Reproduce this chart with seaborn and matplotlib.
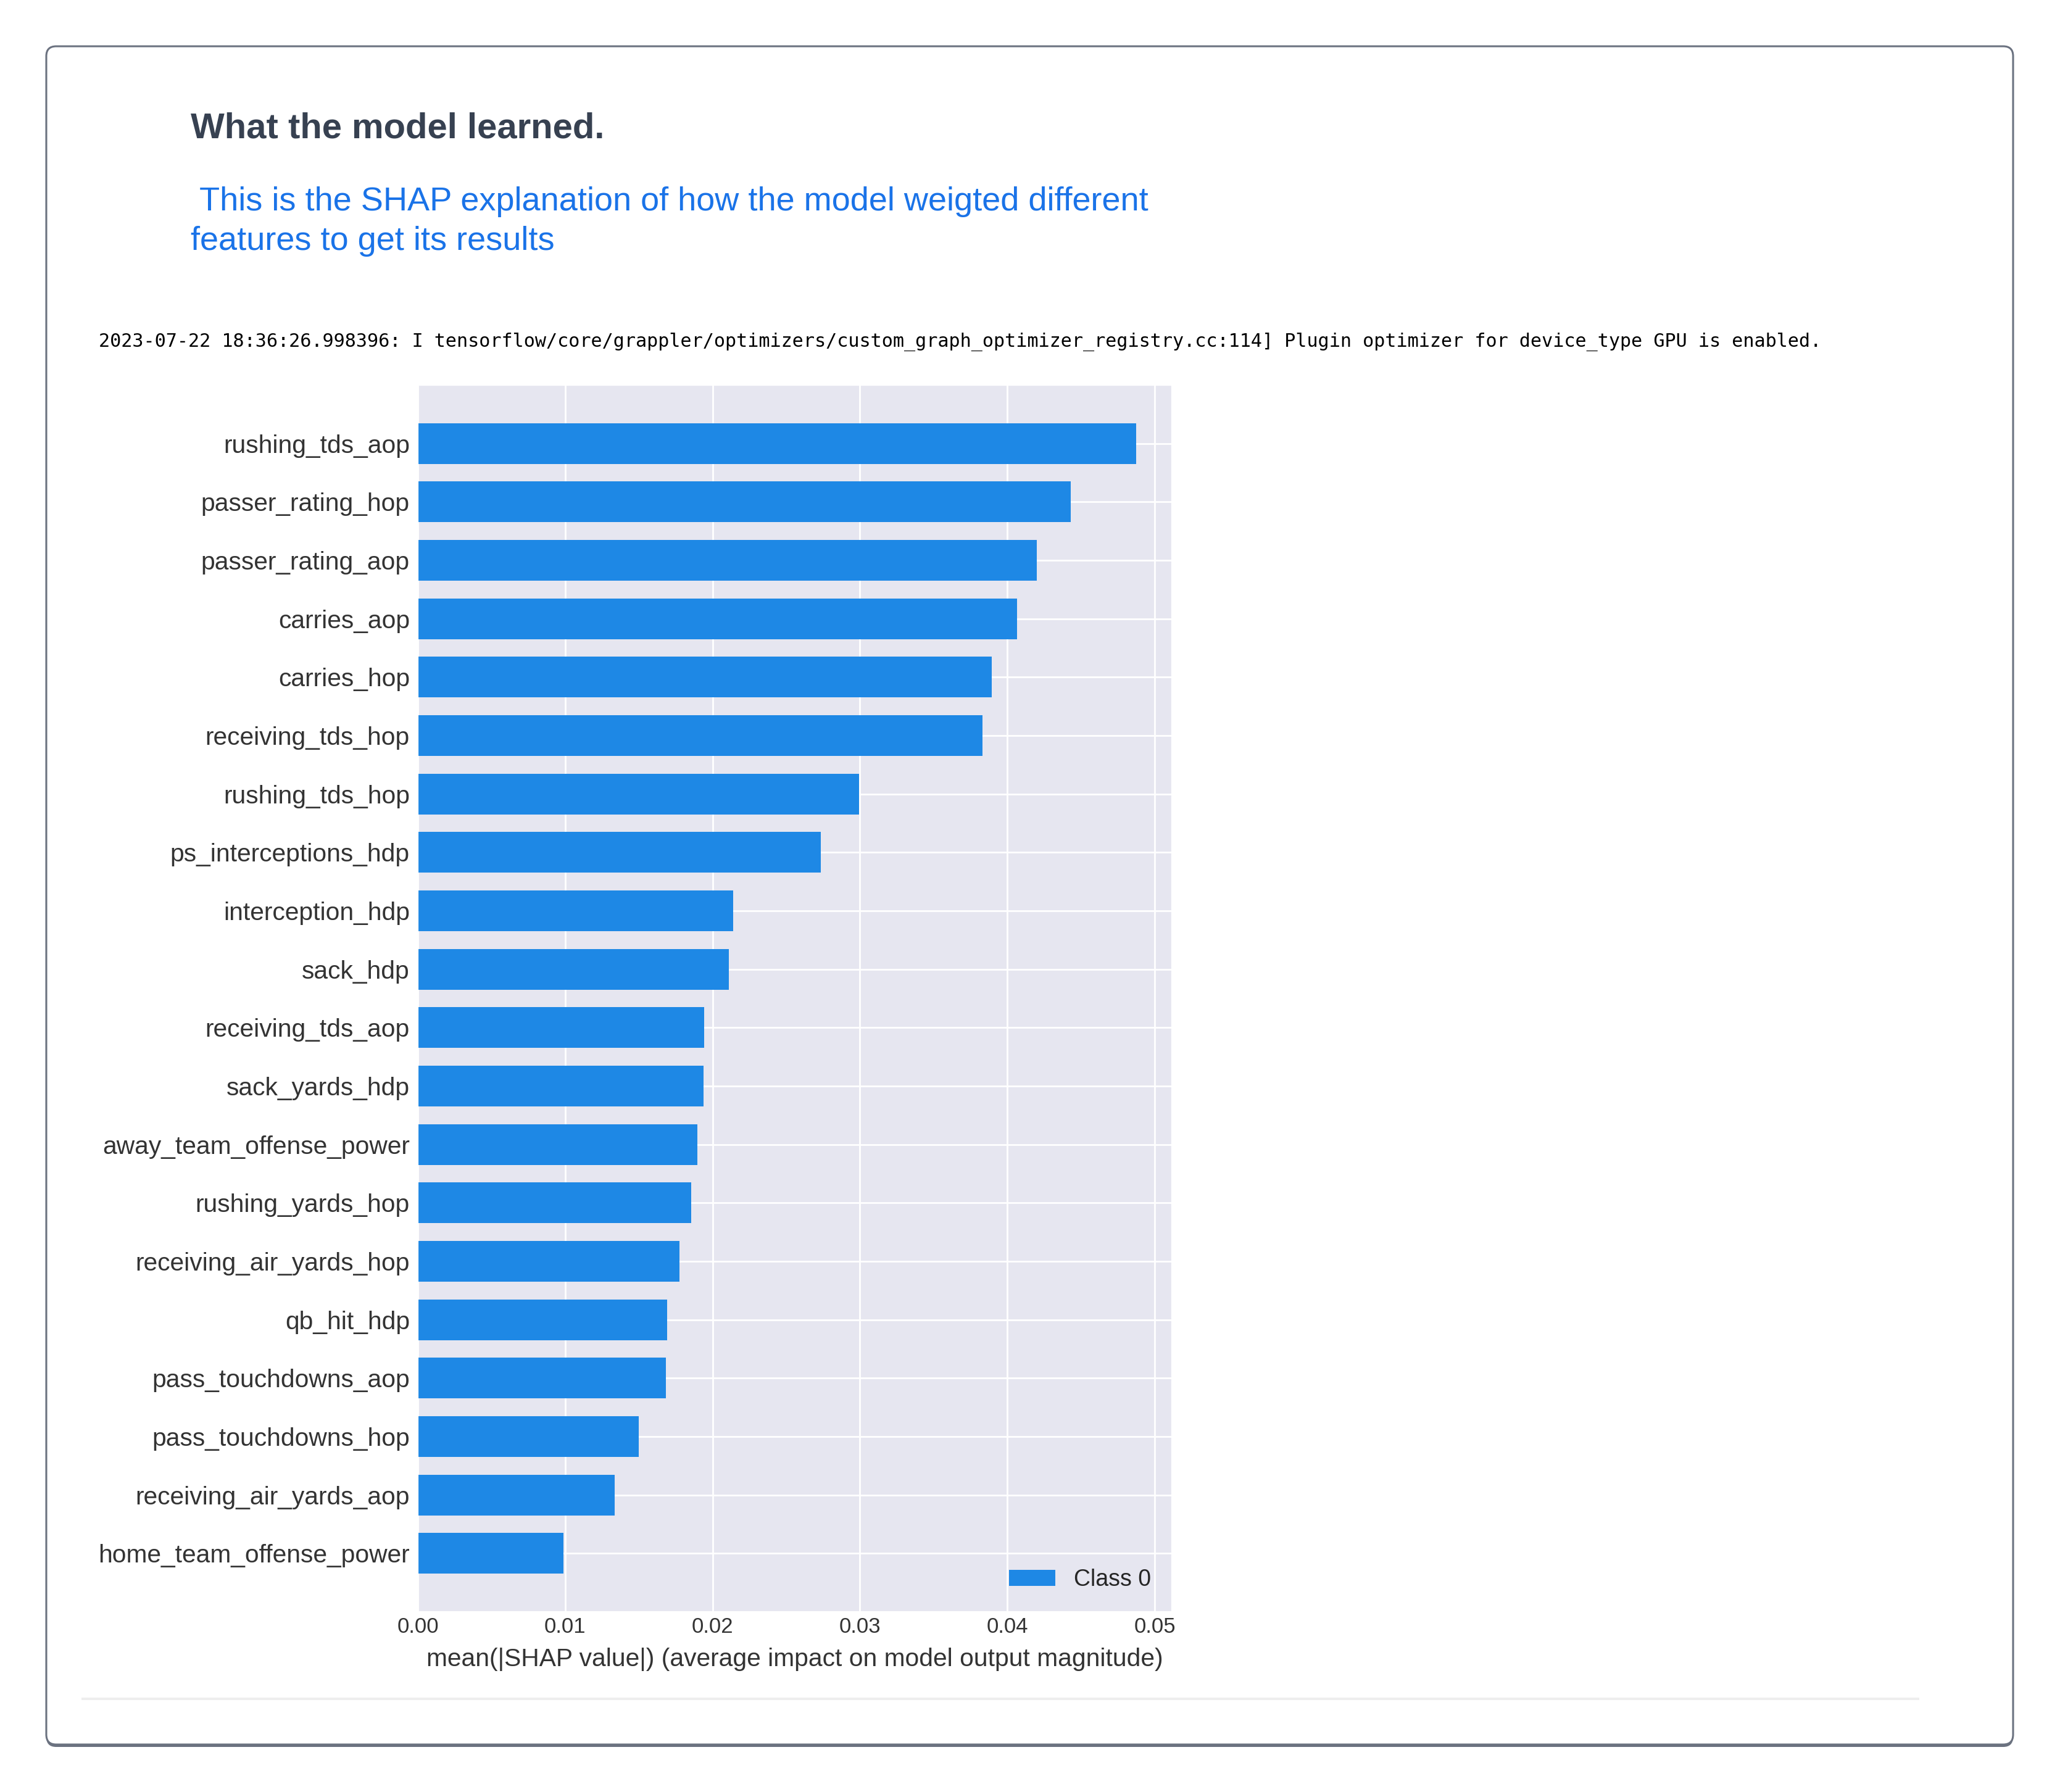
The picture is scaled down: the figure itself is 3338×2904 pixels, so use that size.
import matplotlib
matplotlib.use("Agg")
import matplotlib.pyplot as plt
from matplotlib.patches import FancyBboxPatch
import seaborn as sns
import pandas as pd

# Data (top to bottom)
features = [
    "rushing_tds_aop", "passer_rating_hop", "passer_rating_aop", "carries_aop",
    "carries_hop", "receiving_tds_hop", "rushing_tds_hop", "ps_interceptions_hdp",
    "interception_hdp", "sack_hdp", "receiving_tds_aop", "sack_yards_hdp",
    "away_team_offense_power", "rushing_yards_hop", "receiving_air_yards_hop",
    "qb_hit_hdp", "pass_touchdowns_aop", "pass_touchdowns_hop",
    "receiving_air_yards_aop", "home_team_offense_power",
]
mean_abs_shap = [
    0.04874, 0.04430, 0.04198, 0.04064, 0.03895, 0.03832, 0.02995, 0.02736,
    0.02139, 0.02112, 0.01943, 0.01940, 0.01898, 0.01854, 0.01774, 0.01693,
    0.01684, 0.01497, 0.01337, 0.00989,
]
class_name = "Class 0"
x_ticks = [0.00, 0.01, 0.02, 0.03, 0.04, 0.05]

title = "What the model learned."
subtitle_1 = " This is the SHAP explanation of how the model weigted different"
subtitle_2 = "features to get its results"
log_line = ("2023-07-22 18:36:26.998396: I tensorflow/core/grappler/optimizers/"
            "custom_graph_optimizer_registry.cc:114] Plugin optimizer for "
            "device_type GPU is enabled.")

W, H, DPI = 3338, 2904, 200

sns.set_style("darkgrid", {"axes.facecolor": "#E6E6F0", "grid.color": "white"})
plt.rcParams["font.family"] = ["Liberation Sans", "DejaVu Sans"]

fig = plt.figure(figsize=(W / DPI, H / DPI), dpi=DPI)
fig.patch.set_facecolor("white")

# background layer in pixel coordinates: card, header texts, separator
bg = fig.add_axes([0, 0, 1, 1], zorder=0)
bg.set_xlim(0, W)
bg.set_ylim(H, 0)
bg.axis("off")
bg.set_facecolor("none")

shadow = FancyBboxPatch((75, 79), 3187, 2752, boxstyle="round,pad=0,rounding_size=16",
                        facecolor="#6b7280", edgecolor="none")
bg.add_patch(shadow)
card = FancyBboxPatch((75, 75), 3187, 2752, boxstyle="round,pad=0,rounding_size=16",
                      facecolor="white", edgecolor="#6b7280", linewidth=1.1)
bg.add_patch(card)

bg.plot([132, 3110], [2753, 2753], color="#eeeeee", linewidth=1.4, solid_capstyle="butt")

bg.text(309, 223, title, fontsize=20.9, fontweight="bold", color="#374151",
        va="baseline", ha="left")
bg.text(309, 341, subtitle_1, fontsize=19.5, color="#1a73e8", va="baseline", ha="left")
bg.text(309, 405, subtitle_2, fontsize=19.5, color="#1a73e8", va="baseline", ha="left")
bg.text(160, 562, log_line, fontsize=10.85, family="DejaVu Sans Mono", color="black",
        va="baseline", ha="left")

# SHAP bar chart
df = pd.DataFrame({"feature": features, "value": mean_abs_shap,
                   "cls": [class_name] * len(features)})

ax = fig.add_axes([677 / W, 1 - 2612 / H, (1899 - 677) / W, (2612 - 624) / H], zorder=1)
sns.barplot(data=df, y="feature", x="value", hue="cls", order=features,
            palette={class_name: "#1E88E5"}, width=0.7, orient="h",
            linewidth=0, saturation=1, ax=ax)

ax.set_xlim(0, 0.05117)
ax.set_ylim(len(features), -1)
ax.set_xticks(x_ticks)
ax.set_xticklabels([f"{t:.2f}" for t in x_ticks])
ax.grid(True, axis="both", color="white", linewidth=1.0)
ax.set_axisbelow(True)
ax.tick_params(axis="both", length=0)
ax.tick_params(axis="y", labelsize=14.7, pad=4.7, colors="#333333")
ax.tick_params(axis="x", labelsize=12.5, pad=3, colors="#333333")
for lbl in ax.get_yticklabels():
    lbl.set_verticalalignment("center_baseline")
ax.set_ylabel("")
ax.set_xlabel("mean(|SHAP value|) (average impact on model output magnitude)",
              fontsize=14.7, color="#333333", labelpad=6)
ax.legend(loc="lower right", frameon=False, fontsize=13.5)

fig.savefig("out.png", dpi=DPI, facecolor="white")
plt.close(fig)
